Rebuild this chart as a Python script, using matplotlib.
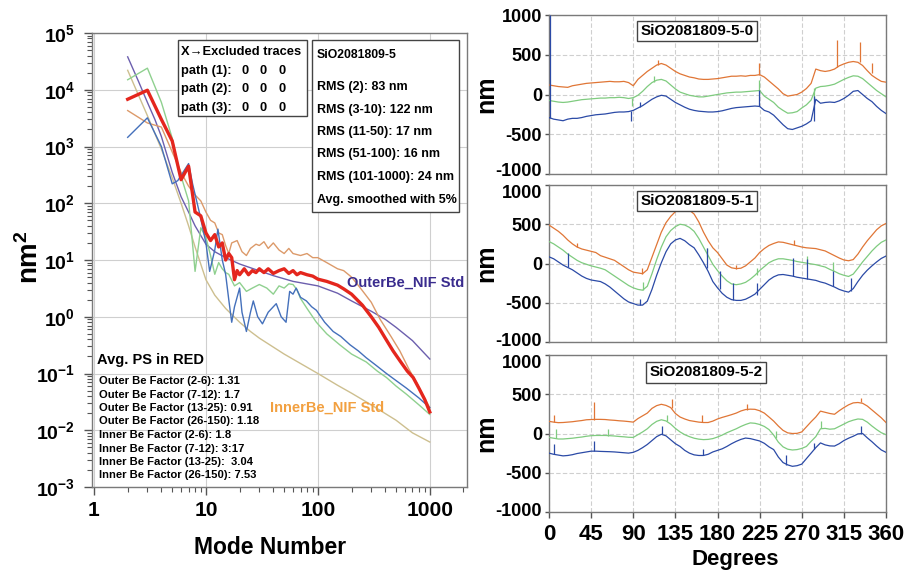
import numpy as np
import matplotlib
matplotlib.use("Agg")
import matplotlib.pyplot as plt
import matplotlib.font_manager as fm
from matplotlib.patches import Rectangle
from matplotlib.transforms import ScaledTranslation
from matplotlib.ticker import FixedLocator, FixedFormatter, LogLocator, NullFormatter

# ---------------- fonts ----------------
_names = {f.name for f in fm.fontManager.ttflist}
HAS_NARROW = 'Liberation Sans Narrow' in _names
NARROW = 'Liberation Sans Narrow' if HAS_NARROW else 'Liberation Sans'
NS = 1.0 if HAS_NARROW else 0.84
REG = 'Liberation Sans'
plt.rcParams['font.family'] = [REG, 'DejaVu Sans']
plt.rcParams['font.weight'] = 'bold'
plt.rcParams['mathtext.default'] = 'regular'
plt.rcParams['axes.unicode_minus'] = False

# ---------------- data: power spectra (left) ----------------
RED_MODES = [2, 3, 4, 5, 6, 7, 8, 9, 10, 11, 12, 13, 14, 15, 16, 17, 18, 19, 20, 22, 24, 26, 28, 30,
             33, 36, 40, 45, 50, 55, 60, 65, 70, 80, 90, 100, 120, 150, 170, 200, 250, 300, 350, 400,
             470, 550, 630, 710, 800, 900, 1000]
RED_VALS = [6800, 9800, 3000, 1250, 260, 450, 70, 60, 30, 22, 28, 17, 20, 10, 13, 11, 4.5, 6.5, 5.5, 7,
            5.5, 6.5, 6, 7, 6, 7, 5.8, 6.5, 7, 5.8, 6.5, 5.5, 6, 5.5, 5.2, 4.6, 4.2, 3.6, 3.1, 2.5,
            1.6, 1.0, 0.65, 0.42, 0.25, 0.16, 0.11, 0.085, 0.055, 0.035, 0.021]

ORG_MODES = [2, 3, 4, 5, 6, 7, 8, 9, 10, 11, 12, 13, 14, 15, 16, 17, 19, 21, 23, 25, 28, 30, 33, 36, 40,
             45, 50, 55, 60, 70, 80, 90, 100, 120, 150, 170, 200, 240, 300, 360, 450, 540, 650, 760,
             850, 1000]
ORG_VALS = [4300, 2600, 2200, 800, 350, 200, 140, 110, 70, 50, 45, 30, 28, 18, 13, 20, 22, 14, 12, 16,
            19, 18, 21, 16, 20, 15, 13, 16, 13, 12, 13, 11, 11, 9, 7, 6.5, 5, 3.2, 1.8, 0.9, 0.45,
            0.25, 0.12, 0.07, 0.045, 0.025]

GRN_MODES = [2, 3, 4, 5, 5.5, 6, 7, 8, 9, 10, 11, 12, 13, 14, 15, 16, 18, 20, 23, 26, 30, 35, 40, 45,
             50, 55, 60, 65, 70, 80, 97, 120, 157, 200, 270, 340, 410, 500, 620, 800, 1000]
GRN_VALS = [1.5e4, 2.4e4, 6000, 1400, 570, 300, 110, 6.3, 37, 25, 12, 5.6, 9, 7, 6, 5.6, 3.5, 4, 2.8,
            3.2, 3.7, 3.2, 2.5, 3.5, 3.2, 3.8, 3.7, 3.0, 2.1, 1.4, 0.8, 0.5, 0.32, 0.22, 0.16, 0.11,
            0.085, 0.06, 0.043, 0.028, 0.019]

BLU_MODES = [2, 3, 4, 5, 5.6, 7, 7.6, 8.8, 10, 10.8, 12, 12.8, 14, 15, 16, 17, 18, 20, 21, 23, 25,
             26.5, 29, 32, 36, 40, 42.5, 47, 52, 56, 60, 64, 70, 79, 88, 97, 115, 137, 160, 194, 230,
             270, 330, 410, 500, 620, 800, 1000]
BLU_VALS = [1450, 3200, 1000, 220, 250, 500, 220, 65, 20, 6.3, 15, 35, 10, 5.6, 2, 0.8, 1.5, 3.2, 1.2,
            0.55, 1.2, 1.9, 1.0, 0.75, 1.2, 1.5, 1.7, 1.0, 0.8, 2.8, 2.5, 3.2, 2.2, 1.9, 1.5, 1.3, 0.8,
            0.55, 0.45, 0.32, 0.25, 0.19, 0.14, 0.1, 0.075, 0.055, 0.037, 0.025]

OUTER_MODES = [2, 2.5, 3, 3.5, 4, 5, 6, 7, 8, 10, 12, 15, 20, 25, 40, 60, 100, 150, 200, 300, 400, 500,
               700, 1000]
OUTER_VALS = [3.8e4, 1.4e4, 6000, 3000, 1500, 350, 130, 70, 40, 19, 14, 11, 8.5, 7.3, 5.3, 4.2, 3.5,
              2.6, 1.9, 1.25, 0.9, 0.65, 0.38, 0.18]

INNER_MODES = [2, 2.5, 3, 4, 5, 6, 7, 8, 10, 12, 15, 20, 25, 30, 50, 70, 100, 150, 200, 300, 500, 700,
               1000]
INNER_VALS = [2.2e4, 8000, 3500, 900, 280, 100, 40, 17, 4.5, 2.4, 1.4, 0.8, 0.55, 0.42, 0.22, 0.15,
              0.1, 0.062, 0.045, 0.028, 0.015, 0.009, 0.0062]

X_TICKS = [1, 10, 100, 1000]
X_TICK_LABELS = ['1', '10', '100', '1000']
Y_TICKS = [1e-3, 1e-2, 1e-1, 1e0, 1e1, 1e2, 1e3, 1e4, 1e5]
Y_TICK_LABELS = [r'$\mathdefault{10^{-3}}$', r'$\mathdefault{10^{-2}}$', r'$\mathdefault{10^{-1}}$',
                 r'$\mathdefault{10^{0}}$', r'$\mathdefault{10^{1}}$', r'$\mathdefault{10^{2}}$',
                 r'$\mathdefault{10^{3}}$', r'$\mathdefault{10^{4}}$', r'$\mathdefault{10^{5}}$']

EXCL_HEADER = 'X\u2192Excluded traces'
EXCL_ROWS = ['path (1):', 'path (2):', 'path (3):']
EXCL_VALUES = [[0, 0, 0], [0, 0, 0], [0, 0, 0]]
RMS_TITLE = 'SiO2081809-5'
RMS_LINES = ['RMS (2): 83 nm', 'RMS (3-10): 122 nm', 'RMS (11-50): 17 nm', 'RMS (51-100): 16 nm',
             'RMS (101-1000): 24 nm', 'Avg. smoothed with 5%']
FACTOR_LINES = ['Outer Be Factor (2-6): 1.31', 'Outer Be Factor (7-12): 1.7',
                'Outer Be Factor (13-25): 0.91', 'Outer Be Factor (26-150): 1.18',
                'Inner Be Factor (2-6): 1.8', 'Inner Be Factor (7-12): 3:17',
                'Inner Be Factor (13-25):  3.04', 'Inner Be Factor (26-150): 7.53']

# ---------------- data: traces vs angle (right) ----------------
ANGLES = list(range(0, 361, 5))
PANEL_TITLES = ['SiO2081809-5-0', 'SiO2081809-5-1', 'SiO2081809-5-2']

P_ORANGE = [
    [120, 110, 100, 95, 90, 110, 120, 130, 140, 145,
     150, 155, 160, 165, 160, 160, 165, 150, 110, 190,
     240, 290, 330, 370, 390, 370, 330, 290, 260, 240,
     220, 210, 195, 190, 190, 195, 200, 210, 220, 230,
     230, 235, 230, 240, 240, 250, 220, 170, 120, 70,
     10, -20, -10, 0, 30, 75, 140, 320, 300, 290,
     300, 320, 360, 385, 405, 415, 405, 365, 300, 240,
     200, 165, 155],
    [490, 450, 410, 360, 300, 250, 210, 185, 170, 155,
     140, 100, 80, 60, 40, 0, -40, -80, -110, -120,
     -130, -80, 80, 240, 400, 520, 600, 660, 690, 700,
     680, 630, 530, 400, 290, 200, 140, 60, -20, -55,
     -65, -60, -30, 20, 70, 140, 190, 230, 255, 275,
     270, 255, 240, 225, 210, 200, 195, 190, 175, 160,
     130, 100, 70, 45, 35, 50, 120, 210, 290, 360,
     430, 480, 510],
    [155, 145, 138, 140, 145, 150, 158, 165, 175, 178,
     180, 180, 178, 172, 168, 162, 158, 152, 145, 190,
     225, 260, 320, 355, 372, 358, 330, 255, 210, 185,
     165, 155, 145, 140, 140, 158, 185, 205, 222, 240,
     260, 287, 305, 310, 308, 290, 260, 210, 158, 95,
     40, 8, 0, 2, 20, 85, 150, 210, 285, 270,
     255, 245, 290, 330, 365, 390, 395, 385, 350, 300,
     250, 200, 140],
]
P_GREEN = [
    [-75, -85, -95, -100, -95, -85, -75, -65, -60, -55,
     -50, -45, -45, -40, -40, -35, -40, -50, -40, -10,
     40, 100, 150, 180, 190, 170, 120, 70, 30, 10,
     -10, -20, -30, -30, -20, -10, 0, 10, 20, 25,
     30, 30, 35, 40, 45, 50, -20, -60, -100, -160,
     -200, -235, -230, -215, -170, -130, -70, 80, 100, 105,
     115, 130, 160, 190, 215, 235, 230, 200, 150, 100,
     50, 10, -30],
    [280, 250, 210, 170, 120, 80, 40, 10, -10, -30,
     -45, -60, -80, -120, -160, -200, -240, -280, -310, -330,
     -340, -290, -130, 50, 210, 340, 420, 470, 500, 490,
     460, 410, 320, 210, 100, -10, -90, -160, -220, -260,
     -270, -260, -240, -200, -150, -90, -40, 10, 40, 60,
     60, 50, 40, 25, 15, 5, -5, -15, -30, -45,
     -75, -100, -130, -150, -165, -135, -60, 20, 90, 160,
     220, 270, 300],
    [-50, -60, -70, -70, -65, -60, -52, -45, -35, -28,
     -25, -25, -25, -28, -32, -38, -42, -48, -50, -15,
     20, 60, 115, 155, 175, 160, 120, 65, 20, -15,
     -40, -60, -72, -78, -75, -65, -45, -20, 10, 35,
     60, 90, 115, 135, 130, 115, 90, 50, -20, -110,
     -170, -200, -210, -205, -190, -165, -100, -40, 60, 65,
     55, 60, 90, 120, 150, 170, 185, 180, 145, 95,
     50, 10, -15],
]
P_BLUE = [
    [-290, -310, -320, -330, -310, -300, -300, -290, -275, -265,
     -255, -250, -245, -235, -225, -220, -220, -215, -200, -170,
     -140, -100, -60, -30, -10, -20, -60, -100, -130, -160,
     -185, -200, -210, -215, -220, -220, -215, -205, -190, -175,
     -165, -160, -155, -150, -145, -150, -200, -220, -260, -320,
     -380, -430, -440, -420, -400, -370, -330, -60, -110, -100,
     -95, -100, -80, -50, -10, 40, 50, 0, -50, -90,
     -150, -200, -240],
    [85, 60, 20, -20, -50, -80, -120, -160, -190, -210,
     -220, -230, -260, -300, -350, -400, -450, -490, -510, -530,
     -530, -480, -330, -150, 10, 150, 250, 300, 320, 290,
     240, 200, 110, 10, -100, -230, -310, -380, -430, -460,
     -470, -470, -455, -425, -390, -330, -270, -210, -170, -145,
     -140, -150, -160, -175, -185, -195, -205, -215, -235, -250,
     -275, -300, -330, -350, -365, -320, -230, -150, -85, -30,
     20, 65, 95],
    [-250, -265, -275, -285, -280, -270, -255, -245, -235, -225,
     -225, -228, -230, -232, -235, -240, -245, -250, -240, -215,
     -180, -140, -90, -40, -10, -30, -80, -130, -165, -215,
     -250, -272, -280, -280, -265, -235, -215, -195, -165, -130,
     -100, -75, -58, -65, -80, -95, -125, -170, -205, -300,
     -370, -400, -418, -410, -390, -320, -250, -180, -120, -145,
     -158, -160, -130, -90, -60, -35, -5, 0, -55, -105,
     -160, -210, -240],
]
# narrow spikes: (angle, from, to)
SPIKES_ORANGE = [
    [(224, 245, 390), (308, 350, 690), (332, 410, 660), (345, 270, 400), (116, 370, 430)],
    [(99, -130, -60), (262, 235, 300), (30, 210, 260), (200, -65, -20)],
    [(5, 145, 230), (48, 178, 400), (131, 330, 440), (163, 145, 240), (212, 305, 380), (333, 395, 450)],
]
SPIKES_GREEN = [
    [(224, 45, 180), (89, -40, -150), (112, 160, 230), (283, -60, 80)],
    [(100, -340, -230), (169, 100, 200), (276, 5, 90), (303, -90, 20), (222, -150, -60)],
    [(7, -60, 60), (63, -28, 60), (126, 160, 240), (291, 65, 160), (243, -60, 30)],
]
SPIKES_BLUE = [
    [(0.6, -290, 1000), (88, -210, -330), (224, -145, 60), (97, -160, -90), (283, -330, -20)],
    [(20, -50, 130), (169, -60, 200), (183, -330, -100), (197, -460, -250), (222, -400, -250),
     (261, -160, 70), (276, -195, 60), (303, -290, -90), (323, -350, -180), (97, -530, -450)],
    [(5, -265, -130), (48, -225, -90), (121, -10, 90), (165, -280, -200), (253, -400, -270),
     (333, 0, 100), (283, -200, -120)],
]
R_YTICKS = [-1000, -500, 0, 500, 1000]
R_XTICKS = [0, 45, 90, 135, 180, 225, 270, 315, 360]

# ---------------- figure ----------------
W, H = 909, 582
fig = plt.figure(figsize=(W / 100, H / 100), dpi=100)
fig.patch.set_facecolor('white')


def fx(x):
    return x / W


def fy(y):
    return 1 - y / H


GRID = '#cfcfcf'
SPINE = '#7a7a7a'

# ---- left: power spectrum ----
ax = fig.add_axes([fx(92), fy(487), fx(467) - fx(92), fy(33) - fy(487)])
ax.set_xscale('log')
ax.set_yscale('log')
ax.set_xlim(0.96, 2150)
ax.set_ylim(1e-3, 1e5)
ax.set_axisbelow(True)
ax.grid(True, which='major', color=GRID, lw=0.8)

ax.plot(INNER_MODES, INNER_VALS, color='#cdbf8f', lw=1.0, zorder=2)
ax.plot(OUTER_MODES, OUTER_VALS, color='#6c5fae', lw=1.0, zorder=2)
ax.plot(ORG_MODES, ORG_VALS, color='#dc9a6a', lw=1.0, zorder=3)
ax.plot(GRN_MODES, GRN_VALS, color='#8fd08f', lw=1.0, zorder=3)
ax.plot(BLU_MODES, BLU_VALS, color='#4470bb', lw=1.0, zorder=4)
ax.plot(RED_MODES, RED_VALS, color='#e4261d', lw=2.4, zorder=5)

ax.xaxis.set_major_locator(FixedLocator(X_TICKS))
ax.xaxis.set_major_formatter(FixedFormatter(X_TICK_LABELS))
ax.xaxis.set_minor_locator(LogLocator(base=10, subs=np.arange(2, 10), numticks=20))
ax.xaxis.set_minor_formatter(NullFormatter())
ax.yaxis.set_major_locator(FixedLocator(Y_TICKS))
ax.yaxis.set_major_formatter(FixedFormatter(Y_TICK_LABELS))
ax.yaxis.set_minor_locator(LogLocator(base=10, subs=np.arange(2, 10), numticks=20))
ax.yaxis.set_minor_formatter(NullFormatter())
ax.tick_params(axis='both', which='major', direction='out', length=6, width=1, color='#555555')
ax.tick_params(axis='both', which='minor', direction='out', length=3.5, width=0.8, color='#555555')
ax.tick_params(axis='y', which='major', pad=6)
ax.tick_params(axis='x', which='major', pad=4)
for lab in ax.get_yticklabels():
    lab.set_fontfamily(REG)
    lab.set_fontsize(14)
    lab.set_fontweight('bold')
for lab in ax.get_xticklabels():
    lab.set_fontfamily(NARROW)
    lab.set_fontsize(18 * NS)
    lab.set_fontweight('bold')
for s in ax.spines.values():
    s.set_color(SPINE)
    s.set_linewidth(1.0)

fig.text(fx(270), fy(548), 'Mode Number', ha='center', va='center',
         fontsize=16.5, fontweight='bold', family=REG)
fig.text(fx(30), fy(257), r'nm$^{2}$', ha='center', va='center', rotation=90,
         fontsize=20, fontweight='bold', family=REG)

# box 1
fig.patches.append(Rectangle((fx(178), fy(116)), fx(307) - fx(178), fy(40) - fy(116),
                             transform=fig.transFigure, fill=True, facecolor='white',
                             edgecolor='#444444', lw=1.0, zorder=10))
bfs = 11 * NS
fig.text(fx(181), fy(52), EXCL_HEADER, ha='left', va='center', fontsize=bfs,
         fontweight='bold', family=[NARROW, 'DejaVu Sans'], zorder=11)
for i, (row, vals) in enumerate(zip(EXCL_ROWS, EXCL_VALUES)):
    yy = 71 + i * 18.3
    fig.text(fx(181), fy(yy), row, ha='left', va='center', fontsize=bfs, fontweight='bold',
             family=NARROW, zorder=11)
    for j, v in enumerate(vals):
        fig.text(fx(245 + j * 18.5), fy(yy), str(v), ha='center', va='center', fontsize=bfs,
                 fontweight='bold', family=NARROW, zorder=11)

# box 2
fig.patches.append(Rectangle((fx(312), fy(212)), fx(459) - fx(312), fy(40) - fy(212),
                             transform=fig.transFigure, fill=True, facecolor='white',
                             edgecolor='#444444', lw=1.0, zorder=10))
fig.text(fx(317), fy(55), RMS_TITLE, ha='left', va='center', fontsize=10.5 * NS,
         fontweight='bold', family=NARROW, zorder=11)
for i, line in enumerate(RMS_LINES):
    fig.text(fx(317), fy(87 + i * 22.5), line, ha='left', va='center', fontsize=10.7 * NS,
             fontweight='bold', family=NARROW, zorder=11)

# curve labels
fig.text(fx(347), fy(283), 'OuterBe_NIF Std', ha='left', va='center', fontsize=12.5 * NS,
         fontweight='bold', family=NARROW, color='#3a2c8e', zorder=11)
fig.text(fx(270), fy(408), 'InnerBe_NIF Std', ha='left', va='center', fontsize=12.5 * NS,
         fontweight='bold', family=NARROW, color='#f2a040', zorder=11)

# factor text block
fig.text(fx(97), fy(360), 'Avg. PS in RED', ha='left', va='center', fontsize=12.5 * NS,
         fontweight='bold', family=NARROW, zorder=11)
for i, line in enumerate(FACTOR_LINES):
    fig.text(fx(99), fy(381 + i * 13.5), line, ha='left', va='center', fontsize=9.6 * NS,
             fontweight='bold', family=NARROW, zorder=11)

# ---- right: three panels ----
panel_px = [(15, 174), (185, 342), (355, 512)]
title_pos = [(0.44, 0.90), (0.44, 0.898), (0.466, 0.89)]
# vertical nudges (pixels, + = down) for the end tick labels, keeping neighbours apart
top_shift = [0, 6, 6]
bot_shift = [-5, -3, -2]
for i, (top, bot) in enumerate(panel_px):
    a = fig.add_axes([fx(549), fy(bot), fx(886) - fx(549), fy(top) - fy(bot)])
    a.set_xlim(0, 360)
    a.set_ylim(-1000, 1000)
    a.set_axisbelow(True)
    a.grid(True, color=GRID, lw=0.8, ls=(0, (4, 2)))
    a.plot(ANGLES, P_ORANGE[i], color='#e07636', lw=0.9, zorder=3)
    a.plot(ANGLES, P_GREEN[i], color='#7fcb7f', lw=0.9, zorder=3)
    a.plot(ANGLES, P_BLUE[i], color='#2b4aa6', lw=0.9, zorder=4)
    for spikes, col in ((SPIKES_ORANGE[i], '#e07636'), (SPIKES_GREEN[i], '#7fcb7f'),
                        (SPIKES_BLUE[i], '#2b4aa6')):
        a.vlines([s[0] for s in spikes], [s[1] for s in spikes], [s[2] for s in spikes],
                 color=col, lw=0.9, zorder=4)
    a.set_yticks(R_YTICKS)
    a.set_yticklabels([str(v) for v in R_YTICKS])
    a.set_xticks(R_XTICKS)
    a.tick_params(axis='y', direction='out', length=3, width=1, pad=2, color='#555555')
    ylabs = a.get_yticklabels()
    for lab in ylabs:
        lab.set_fontfamily(NARROW)
        lab.set_fontsize(15.5 * NS)
        lab.set_fontweight('bold')
    ylabs[0].set_transform(ylabs[0].get_transform() +
                           ScaledTranslation(0, -bot_shift[i] / 100, fig.dpi_scale_trans))
    ylabs[-1].set_transform(ylabs[-1].get_transform() +
                            ScaledTranslation(0, -top_shift[i] / 100, fig.dpi_scale_trans))
    if i < 2:
        a.tick_params(axis='x', length=0, labelbottom=False)
    else:
        a.set_xticklabels([str(v) for v in R_XTICKS])
        a.tick_params(axis='x', direction='out', length=4, width=1, pad=5, color='#555555')
        for lab in a.get_xticklabels():
            lab.set_fontfamily(REG)
            lab.set_fontsize(16)
            lab.set_fontweight('bold')
    for s in a.spines.values():
        s.set_color(SPINE)
        s.set_linewidth(1.0)
    tx, ty = title_pos[i]
    a.text(tx, ty, PANEL_TITLES[i], transform=a.transAxes, ha='center', va='center',
           fontsize=11, fontweight='bold', family=REG, zorder=6,
           bbox=dict(boxstyle='square,pad=0.22', facecolor='white', edgecolor='#444444', lw=1.0))
    fig.text(fx(486), fy((top + bot) / 2), 'nm', ha='center', va='center', rotation=90,
             fontsize=18, fontweight='bold', family=REG)

fig.text(fx(735), fy(560), 'Degrees', ha='center', va='center', fontsize=16,
         fontweight='bold', family=REG)

fig.savefig('out.png', dpi=100, facecolor='white')
